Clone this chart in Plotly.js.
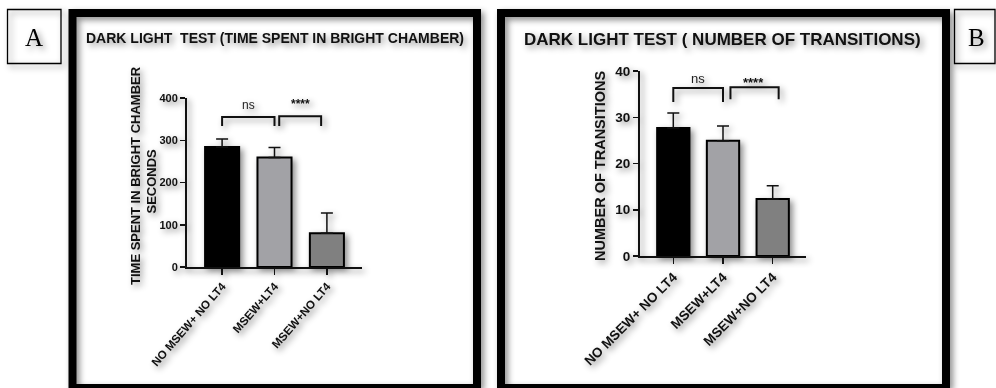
<!DOCTYPE html>
<html>
<head>
<meta charset="utf-8">
<script src="https://cdn.plot.ly/plotly-3.0.1.min.js"></script>
<style>
  html, body { margin:0; padding:0; background:#ffffff; }
  #chart { width:996px; height:388px; filter: drop-shadow(3px 3px 3px rgba(0,0,0,0.45)); }
</style>
</head>
<body>
<div id="chart"></div>
<script>
// ---- data ----
const groups = ['NO MSEW+ NO LT4', 'MSEW+LT4', 'MSEW+NO LT4'];
const groupIdx = [0, 1, 2];
const timeMean = [284, 259, 80];      // seconds in bright chamber
const timeErr  = [19, 24, 48];
const transMean = [27.7, 24.9, 12.3]; // number of transitions
const transErr  = [3.2, 3.2, 2.9];
const barColors = ['#000000', '#a2a2a6', '#808080'];
const ticksA = [0, 100, 200, 300, 400];
const ticksB = [0, 10, 20, 30, 40];
const sigLabels = ['ns', '****'];

const W = 996, H = 388;
const px = v => v / W;
const py = v => 1 - v / H;
const FONT = 'Liberation Sans, Arial, sans-serif';

function barTrace(y, err, xa, ya) {
  return {
    type: 'bar', x: groupIdx, y: y, width: 0.65,
    xaxis: xa, yaxis: ya,
    marker: { color: barColors, line: { color: '#000', width: 2 } },
    error_y: { type: 'data', symmetric: false, array: err, arrayminus: [0, 0, 0],
               color: '#111', thickness: 1.5, width: 6 },
    hoverinfo: 'skip', showlegend: false
  };
}

const data = [
  barTrace(timeMean, timeErr, 'x', 'y'),
  barTrace(transMean, transErr, 'x2', 'y2')
];

function bracket(xref, yref, x0, x1, top, leg) {
  return { type: 'path', xref: xref, yref: yref,
    path: `M ${x0} ${leg} L ${x0} ${top} L ${x1} ${top} L ${x1} ${leg}`,
    line: { color: '#111', width: 2 } };
}

const shapes = [
  // frames
  { type:'rect', xref:'paper', yref:'paper', x0:px(72.5), x1:px(477), y0:py(388), y1:py(13),
    line:{ color:'#000', width:8 } },
  { type:'rect', xref:'paper', yref:'paper', x0:px(501), x1:px(946), y0:py(388), y1:py(13),
    line:{ color:'#000', width:8 } },
  // label boxes
  { type:'rect', xref:'paper', yref:'paper', x0:px(7.5), x1:px(61), y0:py(63.5), y1:py(9.5),
    line:{ color:'#000', width:1.3 } },
  { type:'rect', xref:'paper', yref:'paper', x0:px(954.5), x1:px(995), y0:py(63.5), y1:py(9.5),
    line:{ color:'#000', width:1.3 } },
  // significance brackets
  bracket('x', 'y', 0, 1, 355, 334),
  bracket('x', 'y', 1.09, 1.89, 357, 334),
  bracket('x2', 'y2', 0, 1, 36.3, 33.3),
  bracket('x2', 'y2', 1.15, 2.12, 36.5, 33.9)
];

function ann(o) { return Object.assign({ showarrow:false, xanchor:'center', yanchor:'middle' }, o); }

const annotations = [
  ann({ text:'A', xref:'paper', yref:'paper', x:px(34), y:py(37),
    font:{ family:'Liberation Serif, Times New Roman, serif', size:25, color:'#000' } }),
  ann({ text:'B', xref:'paper', yref:'paper', x:px(976), y:py(37),
    font:{ family:'Liberation Serif, Times New Roman, serif', size:25, color:'#000' } }),
  ann({ text:'DARK LIGHT  TEST (TIME SPENT IN BRIGHT CHAMBER)', xref:'paper', yref:'paper',
    x:px(274.5), y:py(38), font:{ family:FONT, size:14, weight:'bold', color:'#111' } }),
  ann({ text:'DARK LIGHT TEST ( NUMBER OF TRANSITIONS)', xref:'paper', yref:'paper',
    x:px(722.5), y:py(40), font:{ family:FONT, size:17, weight:'bold', color:'#111' } }),
  ann({ text:'TIME SPENT IN BRIGHT CHAMBER', xref:'paper', yref:'paper', x:px(136), y:py(176),
    textangle:-90, font:{ family:FONT, size:13, weight:'bold', color:'#111' } }),
  ann({ text:'SECONDS', xref:'paper', yref:'paper', x:px(150.5), y:py(181),
    textangle:-90, font:{ family:FONT, size:13, weight:'bold', color:'#111' } }),
  ann({ text:'NUMBER OF TRANSITIONS', xref:'paper', yref:'paper', x:px(600), y:py(166),
    textangle:-90, font:{ family:FONT, size:14.5, weight:'bold', color:'#111' } }),
  ann({ text:sigLabels[0], xref:'x', yref:'y', x:0.5, y:384,
    font:{ family:FONT, size:12, color:'#222' } }),
  ann({ text:sigLabels[1], xref:'x', yref:'y', x:1.49, y:386,
    font:{ family:FONT, size:12, weight:'bold', color:'#111' } }),
  ann({ text:sigLabels[0], xref:'x2', yref:'y2', x:0.5, y:38.4,
    font:{ family:FONT, size:13, color:'#222' } }),
  ann({ text:sigLabels[1], xref:'x2', yref:'y2', x:1.62, y:37.6,
    font:{ family:FONT, size:13, weight:'bold', color:'#111' } })
];

function xAxis(domain, fs, angle) {
  return { domain: domain, range: [-0.67, 2.67], tickvals: groupIdx, ticktext: groups,
    tickangle: angle, ticks: 'outside', ticklen: 6, tickwidth: 1.5, tickcolor: '#111',
    showline: true, linecolor: '#111', linewidth: 2, showgrid: false, zeroline: false,
    tickfont: { family: FONT, size: fs, weight: 'bold', color: '#111' }, fixedrange: true };
}
function yAxis(domain, range, tv, fs, anchor) {
  return { domain: domain, range: range, tickvals: tv, anchor: anchor,
    ticks: 'outside', ticklen: 5, tickwidth: 1.5, tickcolor: '#111',
    showline: true, linecolor: '#111', linewidth: 2, showgrid: false, zeroline: false,
    tickfont: { family: FONT, size: fs, weight: 'bold', color: '#111' }, fixedrange: true };
}

const layout = {
  width: W, height: H, margin: { l:0, r:0, t:0, b:0 },
  paper_bgcolor: 'rgba(0,0,0,0)', plot_bgcolor: 'rgba(0,0,0,0)',
  showlegend: false,
  xaxis: Object.assign(xAxis([px(187), px(362)], 11.5, -49), { anchor: 'y' }),
  yaxis: yAxis([py(267), py(98)], [0, 400], ticksA, 11, 'x'),
  xaxis2: Object.assign(xAxis([px(640), px(806)], 13.5, -45), { anchor: 'y2' }),
  yaxis2: yAxis([py(256), py(71)], [0, 40], ticksB, 13.5, 'x2'),
  shapes: shapes,
  annotations: annotations
};

Plotly.newPlot('chart', data, layout, { staticPlot: true, displayModeBar: false });
</script>
</body>
</html>
